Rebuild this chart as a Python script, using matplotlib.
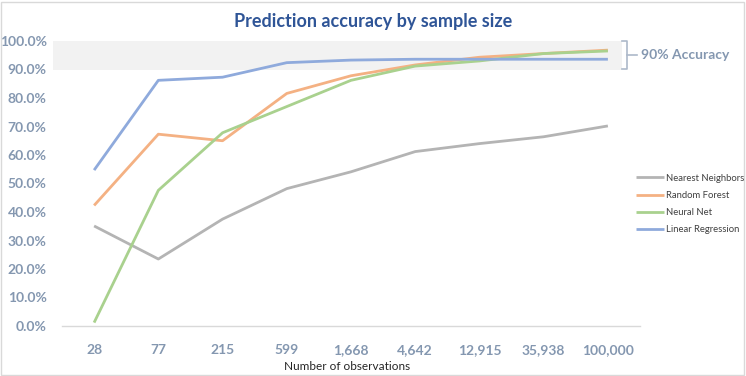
import matplotlib
matplotlib.use("Agg")
import matplotlib.pyplot as plt
from matplotlib.patches import Rectangle
from matplotlib.lines import Line2D

categories = ["28", "77", "215", "599", "1,668", "4,642", "12,915", "35,938", "100,000"]
nearest_neighbors = [35.1, 23.5, 37.5, 48.2, 54.1, 61.2, 64.0, 66.4, 70.2]
random_forest = [42.3, 67.3, 65.0, 81.6, 87.8, 91.6, 94.3, 95.6, 96.8]
neural_net = [1.2, 47.6, 67.8, 77.0, 86.2, 91.2, 93.0, 95.6, 96.5]
linear_regression = [54.7, 86.2, 87.3, 92.4, 93.3, 93.6, 93.6, 93.6, 93.6]
series_names = ["Nearest Neighbors", "Random Forest", "Neural Net", "Linear Regression"]
yticks = [0, 10, 20, 30, 40, 50, 60, 70, 80, 90, 100]

colors = ["#B4B4B4", "#F4B183", "#A9D18E", "#8FAADC"]
tick_color = "#8497B0"
FONT = ["Lato", "DejaVu Sans"]
plt.rcParams["font.family"] = FONT

W, H = 746, 376
fig = plt.figure(figsize=(W / 100, H / 100), dpi=100)
fig.patch.set_facecolor("white")
# outer border
fig.add_artist(Rectangle((1 / W, 1 / H), 1 - 3 / W, 1 - 3 / H, transform=fig.transFigure,
                         fill=False, edgecolor="#D9D9D9", lw=1))

left, right = 62 / W, 640 / W
bottom, top = (H - 326) / H, (H - 41) / H
ax = fig.add_axes([left, bottom, right - left, top - bottom])
ax.set_xlim(-0.5, len(categories) - 0.5)
ax.set_ylim(0, 100)

# 90% accuracy band
x0 = -0.5 + (53 - 62) / ((640 - 62) / len(categories))
x1 = -0.5 + (622 - 62) / ((640 - 62) / len(categories))
ax.add_patch(Rectangle((x0, 90), x1 - x0, 10, facecolor="#F2F2F2", edgecolor="none",
                       clip_on=False, zorder=0))

xs = list(range(len(categories)))
for name, vals, c in zip(series_names, [nearest_neighbors, random_forest, neural_net, linear_regression], colors):
    ax.plot(xs, vals, color=c, lw=2.0, label=name, solid_capstyle="butt", zorder=3)

for s in ["top", "right", "left"]:
    ax.spines[s].set_visible(False)
ax.spines["bottom"].set_color("#D9D9D9")
ax.spines["bottom"].set_linewidth(1)

ax.set_xticks(xs)
ax.set_xticklabels(categories)
ax.set_yticks(yticks)
ax.set_yticklabels([f"{v:.1f}%" for v in yticks])
ax.tick_params(axis="both", length=0, colors=tick_color, labelsize=10)
ax.tick_params(axis="x", pad=13)
ax.tick_params(axis="y", pad=11)
for lbl in ax.get_xticklabels() + ax.get_yticklabels():
    lbl.set_fontweight("bold")

fig.text(347 / W, 1 - 366 / H, "Number of observations", ha="center", va="center",
         fontsize=8.5, color="#262626")
fig.text(373 / W, 1 - 21 / H, "Prediction accuracy by sample size", ha="center", va="center",
         fontsize=13, fontweight="bold", color="#2F5597")

# bracket
bx = 627 / W
ytop, ybot, ymid = 1 - 41 / H, 1 - 69 / H, 1 - 55 / H
fig.add_artist(Line2D([622 / W, bx, bx, 622 / W], [ytop, ytop, ybot, ybot],
                      transform=fig.transFigure, color="#ADB9CA", lw=1.2))
fig.add_artist(Line2D([bx, 637 / W], [ymid, ymid], transform=fig.transFigure,
                      color="#ADB9CA", lw=1.2))
fig.text(641 / W, ymid, "90% Accuracy", ha="left", va="center", fontsize=10,
         fontweight="bold", color=tick_color)

leg = fig.legend(loc="upper left", bbox_to_anchor=(632 / W, 1 - 170 / H), frameon=False,
                 fontsize=6.8, handlelength=3.0, handletextpad=0.2, labelspacing=0.85,
                 borderaxespad=0)
for t in leg.get_texts():
    t.set_color("#404040")

fig.savefig("out.png", dpi=100, facecolor="white")
